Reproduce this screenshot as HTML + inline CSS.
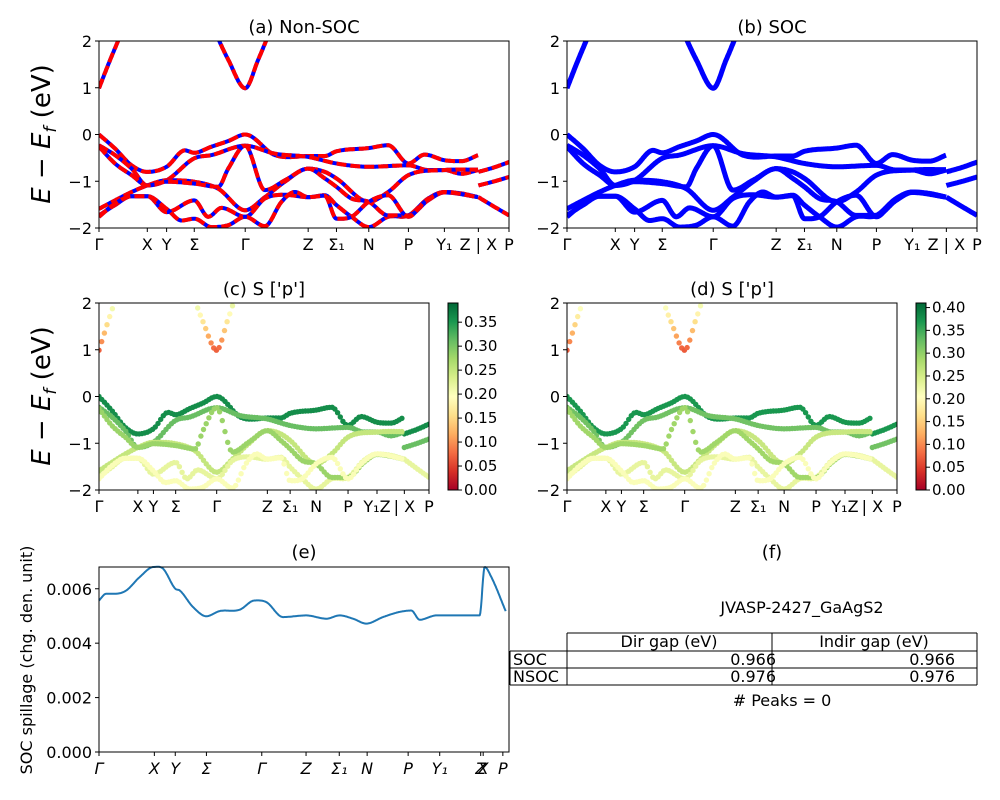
<!DOCTYPE html>
<html><head><meta charset="utf-8">
<style>
html,body{margin:0;padding:0;background:#fff;}
svg{display:block;font-family:"DejaVu Sans","Liberation Sans",sans-serif;}
</style></head>
<body>
<div style="position:relative;width:1000px;height:800px;">
<svg id="fig" width="1000" height="800" viewBox="0 0 1000 800"></svg>
</div>
<script>
// ---- data ----
const tickK = [12,157,215,298,451,640,725,822,941,1049,1151,1243];
const tickLabels = ["Γ","X","Y","Σ","Γ","Z","Σ₁","N","P","Y₁","Z | X","P"];
const eTicks = [2,1,0,-1,-2];

const vb1K = [12,60,110,157,215,270,298,350,400,451,540,640,690,725,822,880,941,990,1049,1100,1151];
const vb1E = [0,-.30,-.66,-.80,-.69,-.34,-.39,-.26,-.14,0,-.44,-.46,-.46,-.36,-.29,-.23,-.62,-.43,-.55,-.57,-.44];
const vb1rK = [1151,1200,1243];
const vb1rE = [-.80,-.70,-.59];
const vb2K = [12,60,110,157,215,298,350,451,540,640,725,822,941,1000,1049,1100,1151];
const vb2E = [-.23,-.44,-.73,-1.09,-.98,-.51,-.44,-.24,-.41,-.48,-.62,-.69,-.66,-.76,-.76,-.84,-.76];
const vb2rK = [1151,1200,1243];
const vb2rE = [-1.09,-1.0,-.91];
const vb3K = [12,60,110,157,215,298,370,451,510,570,640,690,725,822,880,941,1049,1151];
const vb3E = [-1.59,-1.41,-1.23,-1.09,-.98,-1.01,-1.16,-1.62,-1.34,-1.01,-.73,-.80,-.94,-1.44,-1.23,-.87,-.76,-.75];
const vb4K = [12,60,110,157,215,298,340,380,451,510,570,640,690,725,770,822,880,941,1000,1049,1100,1151];
const vb4E = [-1.73,-1.51,-1.32,-1.32,-1.66,-1.41,-1.76,-1.57,-1.76,-1.37,-1.29,-1.34,-1.30,-1.51,-1.76,-1.98,-1.76,-1.73,-1.37,-1.23,-1.26,-1.34];
const vb4rK = [1151,1200,1243];
const vb4rE = [-1.34,-1.55,-1.73];
const vb5K = [12,60,110,157,215,260,298,350,400,451,510,560,600,640,690,725,770,822,880,941,990,1049,1151];
const vb5E = [-1.76,-1.48,-1.32,-1.32,-1.59,-1.84,-1.80,-1.98,-1.94,-1.76,-1.96,-1.44,-1.23,-1.34,-1.31,-1.80,-1.76,-1.44,-1.30,-1.76,-1.44,-1.23,-1.34];
const vb6K = [12,60,110,157,215,298,370,400,451,510,570,640,690,725,770,822,880,941,1000,1049,1151];
const vb6E = [-.26,-.62,-.87,-1.09,-1.01,-1.05,-1.12,-.73,-.24,-1.19,-.98,-.73,-.94,-1.12,-1.37,-1.44,-1.73,-1.73,-1.41,-1.24,-1.34];
const cb1K = [12,40,75];
const cb1E = [.99,1.5,2.1];
const cb2K = [360,400,451,490,525];
const cb2E = [2.2,1.6,.99,1.6,2.2];
// projection weights for (c)/(d)
const bandWeightC = [.36,.36,.31,.31,.25,.22,.22,.28,.07,.07];
const bandWeightD = [.37,.37,.32,.32,.26,.23,.23,.29,.07,.07];
const cbarTicksC = [0,.05,.10,.15,.20,.25,.30,.35];
const cbarTicksD = [0,.05,.10,.15,.20,.25,.30,.35,.40];

// spillage (e)
const spillTickK = [0,.135,.186,.262,.397,.505,.586,.654,.754,.831,.931,.937,.985];
const spillTickLabels = ["Γ","X","Y","Σ","Γ","Z","Σ₁","N","P","Y₁","Z","X","P"];
const spillK = [298,320,350,380,420,462,490,527,540,580,620,660,720,765,800,850,920,980,1020,1060,1100,1150,1200,1235,1260,1310,1400,1440,1455,1475,1518];
const spillV = [.00557,.00582,.00582,.00594,.00643,.0068,.00674,.006,.00594,.00533,.00499,.00518,.00523,.00557,.00551,.00496,.00502,.0049,.00502,.0049,.00472,.00496,.00515,.0052,.00486,.00502,.00502,.00502,.0068,.00643,.00518];
const spillYTicks = [0,.002,.004,.006];

// ---- helpers ----
const NS = "http://www.w3.org/2000/svg";
const svg = document.getElementById("fig");
function el(tag, attrs, parent){ const e=document.createElementNS(NS,tag); for(const k in attrs) e.setAttribute(k,attrs[k]); (parent||svg).appendChild(e); return e; }
function txt(s, attrs, parent){ const e=el("text",attrs,parent); e.textContent=s; return e; }
function evalCurve(ks, es, k){
  const n=ks.length; let i=0; while(i<n-2 && k>ks[i+1]) i++;
  const k0=ks[i],k1=ks[i+1],e0=es[i],e1=es[i+1],h=k1-k0;
  const m=j=>{ if(j<=0) return (es[1]-es[0])/(ks[1]-ks[0]); if(j>=n-1) return (es[n-1]-es[n-2])/(ks[n-1]-ks[n-2]);
    const a=(es[j]-es[j-1])/(ks[j]-ks[j-1]), b=(es[j+1]-es[j])/(ks[j+1]-ks[j]); return (a*b<=0)?0:(a+b)/2; };
  const t=(k-k0)/h, t2=t*t, t3=t2*t;
  return (2*t3-3*t2+1)*e0+(t3-2*t2+t)*h*m(i)+(-2*t3+3*t2)*e1+(t3-t2)*h*m(i+1);
}
const bands = [[vb1K,vb1E],[vb1rK,vb1rE],[vb2K,vb2E],[vb2rK,vb2rE],[vb3K,vb3E],[vb4K,vb4E],[vb4rK,vb4rE],[vb6K,vb6E],[cb1K,cb1E],[cb2K,cb2E]];
const bandsAll = bands.concat([[vb5K,vb5E]]);
const weightC = bandWeightC.concat([.20]);
const weightD = bandWeightD.concat([.21]);

function makeAxes(x0,y0,w,h,name){
  const xs=k=>x0+(k-tickK[0])/(tickK[tickK.length-1]-tickK[0])*w;
  const ys=e=>y0+(2-e)/4*h;
  const g=el("g",{});  
  const cid="clip-"+name;
  const cp=el("clipPath",{id:cid},g); el("rect",{x:x0,y:y0,width:w,height:h},cp);
  const plot=el("g",{"clip-path":`url(#${cid})`},g);
  return {xs,ys,g,plot,x0,y0,w,h};
}
function frameAxes(ax, labels){
  el("rect",{x:ax.x0,y:ax.y0,width:ax.w,height:ax.h,fill:"none",stroke:"#000","stroke-width":1},ax.g);
  eTicks.forEach(e=>{ const y=ax.ys(e);
    el("line",{x1:ax.x0-4,x2:ax.x0,y1:y,y2:y,stroke:"#000"},ax.g);
    const t=txt(String(e).replace("-","−"),{x:ax.x0-7,y:y+6,"text-anchor":"end","font-size":16},ax.g);
      });
  tickK.forEach((k,i)=>{ const x=ax.xs(k);
    el("line",{x1:x,x2:x,y1:ax.y0+ax.h,y2:ax.y0+ax.h+4,stroke:"#000"},ax.g);
    const t=txt(labels[i],{x:x,y:ax.y0+ax.h+22,"text-anchor":"middle","font-size":16},ax.g);
      });
}
function pathFor(ax,ks,es){ let d=""; const a=ks[0],b=ks[ks.length-1];
  for(let k=a;k<=b+0.01;k+=2){ const kk=Math.min(k,b); d+=(d?"L":"M")+ax.xs(kk).toFixed(1)+","+ax.ys(evalCurve(ks,es,kk)).toFixed(1); }
  return d; }
function cmap(t){ const s=[[165,0,38],[215,48,39],[244,109,67],[253,174,97],[254,224,139],[255,255,191],[217,239,139],[166,217,106],[102,189,99],[26,152,80],[0,104,55]];
  t=Math.max(0,Math.min(1,t))*10; const i=Math.min(9,Math.floor(t)), f=t-i;
  const c=s[i].map((v,j)=>Math.round(v+(s[i+1][j]-v)*f)); return `rgb(${c[0]},${c[1]},${c[2]})`; }

function title(s,x,y,name){ const t=txt(s,{x:x,y:y,"text-anchor":"middle","font-size":18});   }
function ylabel(x,y){ const t=el("text",{x:x,y:y,"text-anchor":"middle","font-size":26,transform:`rotate(-90 ${x} ${y})`});
  t.innerHTML='<tspan font-style="italic">E</tspan> − <tspan font-style="italic">E</tspan><tspan font-style="italic" font-size="17" dy="6">f</tspan><tspan dy="-6"> (eV)</tspan>';
    }

// (a)
const axA=makeAxes(99,41,410,187,"panel-a-non-soc");
bandsAll.forEach(([ks,es])=>{ const d=pathFor(axA,ks,es);
  const p1=el("path",{d:d,fill:"none",stroke:"#0000ff","stroke-width":4},axA.plot);
   
  const p2=el("path",{d:d,fill:"none",stroke:"#ff0000","stroke-width":4,"stroke-dasharray":"10,4"},axA.plot);
    });
frameAxes(axA,tickLabels); title("(a) Non-SOC",304,33,"panel-a-title"); ylabel(50,134);

// (b)
const axB=makeAxes(567,41,410,187,"panel-b-soc");
bandsAll.forEach(([ks,es])=>{ const p=el("path",{d:pathFor(axB,ks,es),fill:"none",stroke:"#0000ff","stroke-width":5},axB.plot);
    });
frameAxes(axB,tickLabels); title("(b) SOC",772,33,"panel-b-title");

// (c),(d)
function scatterPanel(x0,name,weights,ttl,cbx,cmax,cticks){
  const ax=makeAxes(x0,303,330,187,name);
  bandsAll.forEach(([ks,es],bi)=>{ const a=ks[0],b=ks[ks.length-1];
    for(let k=a;k<=b;k+=10){ const e=evalCurve(ks,es,k);
      let wv=weights[bi]; if(e>0.9) wv=weights[bi]*(1+ (e-0.99)*2.2);
      const c=el("circle",{cx:ax.xs(k).toFixed(1),cy:ax.ys(e).toFixed(1),r:2.7,fill:cmap(wv/cmax)},ax.plot);
        } });
  frameAxes(ax,["Γ","X","Y","Σ","Γ","Z","Σ₁","N","P","Y₁Z","| X","P"]);
  title(ttl,x0+165,295,name+"-title");
  const gid="grad-"+name; const lg=el("linearGradient",{id:gid,x1:0,y1:1,x2:0,y2:0});
  for(let i=0;i<=10;i++) el("stop",{offset:i/10,"stop-color":cmap(i/10)},lg);
  const cb=el("rect",{x:cbx,y:303,width:10,height:187,fill:`url(#${gid})`,stroke:"#000"});
   
  cticks.forEach(v=>{ const y=490-v/cmax*187; el("line",{x1:cbx+10,x2:cbx+14,y1:y,y2:y,stroke:"#000"});
    const t=txt(v.toFixed(2),{x:cbx+16,y:y+5,"font-size":15});   });
}
scatterPanel(99,"panel-c",weightC,"(c)  S ['p']",448,.39,cbarTicksC);
scatterPanel(567,"panel-d",weightD,"(d) S ['p']",916,.41,cbarTicksD);
ylabel(50,396);

// (e)
(function(){
  const x0=99,y0=567,w=410,h=185,vmax=.0068;
  const xs=k=>x0+(k-298)/(1528-298)*w, ys=v=>y0+h-v/vmax*h;
  let d=""; const a=spillK[0],b=spillK[spillK.length-1];
  for(let k=a;k<=b+0.01;k+=2){ const kk=Math.min(k,b); d+=(d?"L":"M")+xs(kk).toFixed(1)+","+ys(evalCurve(spillK,spillV,kk)).toFixed(1); }
  const p=el("path",{d:d,fill:"none",stroke:"#1f77b4","stroke-width":2,"stroke-linejoin":"round"});
   
  const fr=el("rect",{x:x0,y:y0,width:w,height:h,fill:"none",stroke:"#000"});
   
  spillYTicks.forEach(v=>{ const y=ys(v); el("line",{x1:x0-4,x2:x0,y1:y,y2:y,stroke:"#000"});
    const t=txt(v.toFixed(3),{x:x0-7,y:y+6,"text-anchor":"end","font-size":16});   });
  spillTickK.forEach((f,i)=>{ const x=x0+f*w; el("line",{x1:x,x2:x,y1:y0+h,y2:y0+h+4,stroke:"#000"});
    const t=txt(spillTickLabels[i],{x:x,y:y0+h+22,"text-anchor":"middle","font-size":16,"font-style":"italic"});   });
  title("(e)",304,558,"panel-e-title");
  const t=txt("SOC spillage (chg. den. unit)",{x:32,y:660,"text-anchor":"middle","font-size":16,transform:"rotate(-90 32 660)"});
   
})();
title("(f)",772,558,"panel-f-title");
{ const t=txt("JVASP-2427_GaAgS2",{x:802,y:613,"text-anchor":"middle","font-size":16});   }
{ const t=txt("# Peaks = 0",{x:782,y:706,"text-anchor":"middle","font-size":16});   }
// table
(function(){
  const g=el("g",{});  
  const L=(x1,y1,x2,y2)=>el("line",{x1,y1,x2,y2,stroke:"#000"},g);
  L(567,633,977,633); L(510,651,977,651); L(510,668,977,668); L(510,685,977,685);
  L(567,633,567,685); L(772,633,772,685); L(977,633,977,685); L(510,651,510,685);
  const T=(s,x,y,anc,name)=>{ const t=txt(s,{x,y,"text-anchor":anc,"font-size":16},g);   };
  T("Dir gap (eV)",669,647,"middle","header-dir-gap"); T("Indir gap (eV)",874,647,"middle","header-indir-gap");
  T("SOC",513,665,"start","row-soc"); T("0.966",776,665,"end","soc-dir-gap"); T("0.966",955,665,"end","soc-indir-gap");
  T("NSOC",513,682,"start","row-nsoc"); T("0.976",776,682,"end","nsoc-dir-gap"); T("0.976",955,682,"end","nsoc-indir-gap");
})();
</script>
</body></html>
